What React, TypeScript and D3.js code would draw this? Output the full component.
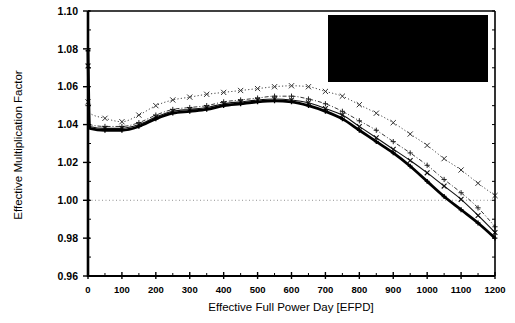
import React from 'react';
import * as d3 from 'd3';

const days = [0, 5, 50, 100, 150, 200, 250, 300, 350, 400, 450, 500, 550, 600, 650, 700, 750, 800, 850, 900, 950, 1000, 1050, 1100, 1150, 1200];
const seriesA = [1.079, 1.038, 1.037, 1.037, 1.039, 1.043, 1.046, 1.047, 1.048, 1.050, 1.051, 1.052, 1.0525, 1.052, 1.050, 1.047, 1.043, 1.037, 1.031, 1.025, 1.018, 1.010, 1.002, 0.995, 0.988, 0.980];
const seriesB = [1.071, 1.039, 1.038, 1.038, 1.040, 1.044, 1.047, 1.048, 1.049, 1.051, 1.052, 1.053, 1.0535, 1.053, 1.0515, 1.0485, 1.045, 1.039, 1.033, 1.027, 1.021, 1.0145, 1.0075, 1.0005, 0.992, 0.983];
const seriesC = [1.050, 1.040, 1.039, 1.039, 1.041, 1.045, 1.048, 1.049, 1.050, 1.052, 1.053, 1.054, 1.055, 1.055, 1.0535, 1.051, 1.047, 1.042, 1.037, 1.031, 1.025, 1.0185, 1.011, 1.004, 0.996, 0.986];
const seriesE = [1.052, 1.046, 1.0433, 1.0415, 1.045, 1.050, 1.053, 1.0545, 1.056, 1.057, 1.058, 1.059, 1.060, 1.0605, 1.060, 1.0575, 1.055, 1.0505, 1.046, 1.041, 1.035, 1.029, 1.022, 1.016, 1.009, 1.0025];
const xTicks = [0, 100, 200, 300, 400, 500, 600, 700, 800, 900, 1000, 1100, 1200];
const yTicks = [0.96, 0.98, 1.0, 1.02, 1.04, 1.06, 1.08, 1.1];
const xTitle = 'Effective Full Power Day [EFPD]';
const yTitle = 'Effective Multiplication Factor';

const FONT = '"Liberation Sans", Arial, Helvetica, sans-serif';

export default function App() {
  const W = 515, H = 323;
  const x = d3.scaleLinear().domain([0, 1200]).range([88, 495]);
  const y = d3.scaleLinear().domain([0.96, 1.10]).range([276, 11]);
  const line = d3.line<[number, number]>().x(d => x(d[0])).y(d => y(d[1])).curve(d3.curveMonotoneX);
  const pts = (vals: number[]) => days.map((d, i) => [d, vals[i]] as [number, number]);

  const plus = (s: number) => `M${-s},0h${2 * s}M0,${-s}v${2 * s}`;
  const cross = (s: number) => `M${-s},${-s}l${2 * s},${2 * s}M${-s},${s}l${2 * s},${-2 * s}`;

  const series = [
    { vals: seriesE, width: 0.9, dash: '1.2,2.2', color: '#333', marker: cross(2.6), mw: 1 },
    { vals: seriesC, width: 0.9, dash: '4,2,1,2', color: '#222', marker: plus(2.6), mw: 1 },
    { vals: seriesB, width: 1.1, dash: null, color: '#111', marker: cross(2.4), mw: 1.1 },
    { vals: seriesA, width: 2.8, dash: null, color: '#000', marker: plus(2.4), mw: 1.3 },
  ];

  const yMinor = d3.range(0.96, 1.1001, 0.01);
  const xMinor = d3.range(50, 1200, 100);

  return (
    <svg width={W} height={H} style={{ position: 'absolute', left: 0, top: 0, background: '#fff' }}>
      <rect x={0} y={0} width={W} height={H} fill="#fff" />
      {/* reference line at 1.00 */}
      <line x1={x(0)} x2={x(1200)} y1={y(1.0)} y2={y(1.0)} stroke="#777" strokeWidth={0.8} strokeDasharray="1,2.5" />
      {series.map((s, si) => (
        <g key={si}>
          <path d={line(pts(s.vals)) || ''} fill="none" stroke={s.color} strokeWidth={s.width}
            strokeDasharray={s.dash || undefined} />
          {days.map((d, i) => (d === 5 ? null : (
            <path key={i} d={s.marker} transform={`translate(${x(d)},${y(s.vals[i])})`}
              stroke={s.color} strokeWidth={s.mw} fill="none" />
          )))}
        </g>
      ))}
      {/* frame */}
      <line x1={x(0)} x2={x(1200)} y1={y(1.1)} y2={y(1.1)} stroke="#000" strokeWidth={1.6} />
      <line x1={x(1200)} x2={x(1200)} y1={y(1.1)} y2={y(0.96)} stroke="#000" strokeWidth={1.6} />
      <line x1={x(0)} x2={x(1200)} y1={y(0.96)} y2={y(0.96)} stroke="#000" strokeWidth={2.2} />
      <line x1={x(0)} x2={x(0)} y1={y(1.1)} y2={y(0.96) + 1} stroke="#000" strokeWidth={2.6} />
      {/* y ticks */}
      {yTicks.map(t => (
        <g key={t}>
          <line x1={x(0) - 5} x2={x(0) + 2} y1={y(t)} y2={y(t)} stroke="#000" strokeWidth={1.4} />
          <text x={78} y={y(t)} dy="0.35em" textAnchor="end" fontFamily={FONT} fontWeight="bold" fontSize={10.5}>
            {t.toFixed(2)}
          </text>
        </g>
      ))}
      {yMinor.map((t, i) => (
        <line key={i} x1={x(0)} x2={x(0) + 3} y1={y(t)} y2={y(t)} stroke="#000" strokeWidth={1} />
      ))}
      {yMinor.map((t, i) => (
        <line key={'r' + i} x1={x(1200) - 3} x2={x(1200)} y1={y(t)} y2={y(t)} stroke="#000" strokeWidth={1} />
      ))}
      {/* x ticks */}
      {xTicks.map(t => (
        <g key={t}>
          <line x1={x(t)} x2={x(t)} y1={y(0.96) - 4} y2={y(0.96) + 3} stroke="#000" strokeWidth={1.4} />
          <text x={x(t)} y={293} textAnchor="middle" fontFamily={FONT} fontWeight="bold" fontSize={9.5}>
            {t}
          </text>
        </g>
      ))}
      {xMinor.map(t => (
        <line key={t} x1={x(t)} x2={x(t)} y1={y(0.96) - 3} y2={y(0.96)} stroke="#000" strokeWidth={1} />
      ))}
      {/* legend (blacked out) */}
      <rect x={328} y={15} width={160} height={67} fill="#000" />
      {/* titles */}
      <text x={291} y={311} textAnchor="middle" fontFamily={FONT} fontSize={11.5}>{xTitle}</text>
      <text transform={`translate(22,145) rotate(-90)`} textAnchor="middle" fontFamily={FONT} fontSize={11.5}>{yTitle}</text>
    </svg>
  );
}
